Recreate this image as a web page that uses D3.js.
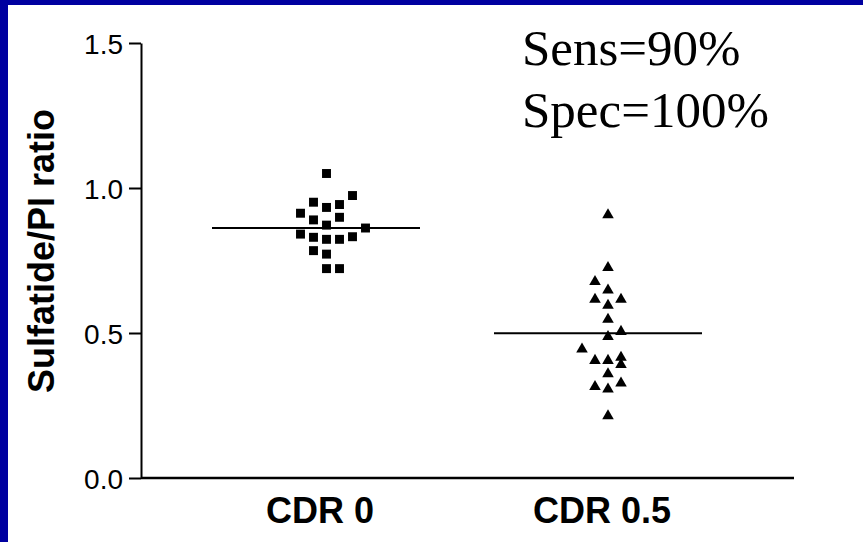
<!DOCTYPE html>
<html>
<head>
<meta charset="utf-8">
<script src="https://cdn.jsdelivr.net/npm/d3@7"></script>
<style>
  html, body { margin: 0; padding: 0; background: #0000a0; }
  svg { display: block; }
</style>
</head>
<body>
<script>
// groups on the x axis
const groups = ['CDR 0', 'CDR 0.5']

// sulfatide/PI ratio per subject
const cdr0 = [1.05, 0.974, 0.951, 0.943, 0.933, 0.913, 0.899, 0.89, 0.872, 0.862,
  0.841, 0.832, 0.83, 0.823, 0.823, 0.784, 0.772, 0.722, 0.722]
const cdr05 = [0.907, 0.725, 0.677, 0.648, 0.616, 0.616, 0.595, 0.547, 0.505, 0.487,
  0.444, 0.405, 0.405, 0.416, 0.391, 0.359, 0.315, 0.306, 0.327, 0.214]

// scatter column (jitter slot) of each point, as Prism laid them out
const cdr0Slot = [2, 4, 1, 3, 2, 0, 3, 1, 2, 5, 0, 4, 1, 2, 3, 1, 2, 2, 3]
const cdr05Slot = [2, 2, 1, 2, 1, 3, 2, 2, 3, 2, 0, 1, 2, 3, 3, 2, 1, 2, 3, 2]

// group means drawn as horizontal lines
const means = [0.862, 0.499]

const yTicks = [0.0, 0.5, 1.0, 1.5]
const notes = ['Sens=90%', 'Spec=100%']

const W = 863, H = 542

const svg = d3.select('body').append('svg')
  .attr('width', W)
  .attr('height', H)

svg.append('rect')
  .attr('x', 8).attr('y', 5)
  .attr('width', W - 8).attr('height', H - 5)
  .attr('fill', '#ffffff')

const y = d3.scaleLinear().domain([0, 1.5]).range([478, 43])
const x = d3.scalePoint().domain(groups).range([320, 602])
const slotX = [
  d3.scaleLinear().domain([0, 5]).range([-19.5, 45.5]),
  d3.scaleLinear().domain([0, 3]).range([-20, 19])
]

// y axis
const yAxis = svg.append('g')
  .attr('transform', 'translate(141,0)')
  .call(d3.axisLeft(y).tickValues(yTicks).tickFormat(d3.format('.1f')).tickSize(12).tickSizeOuter(0))
yAxis.select('.domain').attr('stroke', '#000').attr('stroke-width', 2)
yAxis.selectAll('.tick line').attr('stroke', '#000').attr('stroke-width', 2)
yAxis.selectAll('.tick text')
  .attr('x', -18)
  .attr('dy', '0.36em')
  .attr('fill', '#000')
  .style('font-family', 'Liberation Sans, Arial, sans-serif')
  .style('font-size', '28px')

// x axis line only
svg.append('line')
  .attr('x1', 141).attr('x2', 794)
  .attr('y1', y(0)).attr('y2', y(0))
  .attr('stroke', '#000').attr('stroke-width', 2.5)

svg.selectAll('.xlab')
  .data(groups)
  .enter().append('text')
  .attr('class', 'xlab')
  .attr('x', d => x(d))
  .attr('y', 523)
  .attr('text-anchor', 'middle')
  .style('font-family', 'Liberation Sans, Arial, sans-serif')
  .style('font-weight', 'bold')
  .style('font-size', '36px')
  .text(d => d)

svg.append('text')
  .attr('transform', 'translate(54,251) rotate(-90)')
  .attr('text-anchor', 'middle')
  .style('font-family', 'Liberation Sans, Arial, sans-serif')
  .style('font-weight', 'bold')
  .style('font-size', '36px')
  .text('Sulfatide/PI ratio')

// mean lines
svg.selectAll('.mean')
  .data(means)
  .enter().append('line')
  .attr('class', 'mean')
  .attr('x1', (d, i) => x(groups[i]) - 108)
  .attr('x2', (d, i) => x(groups[i]) + 100)
  .attr('y1', d => y(d))
  .attr('y2', d => y(d))
  .attr('stroke', '#000')
  .attr('stroke-width', 2)

const square = d3.symbol().type(d3.symbolSquare).size(80)
const triangle = d3.symbol().type(d3.symbolTriangle).size(58)

svg.selectAll('.sq')
  .data(cdr0)
  .enter().append('path')
  .attr('class', 'sq')
  .attr('d', square)
  .attr('transform', (d, i) => `translate(${x(groups[0]) + slotX[0](cdr0Slot[i])},${y(d)})`)
  .attr('fill', '#000')

svg.selectAll('.tri')
  .data(cdr05)
  .enter().append('path')
  .attr('class', 'tri')
  .attr('d', triangle)
  .attr('transform', (d, i) => `translate(${x(groups[1]) + slotX[1](cdr05Slot[i])},${y(d)})`)
  .attr('fill', '#000')

svg.selectAll('.note')
  .data(notes)
  .enter().append('text')
  .attr('class', 'note')
  .attr('x', 522)
  .attr('y', (d, i) => 65 + i * 62)
  .style('font-family', 'Liberation Serif, Times New Roman, serif')
  .style('font-size', '51px')
  .text(d => d)
</script>
</body>
</html>
